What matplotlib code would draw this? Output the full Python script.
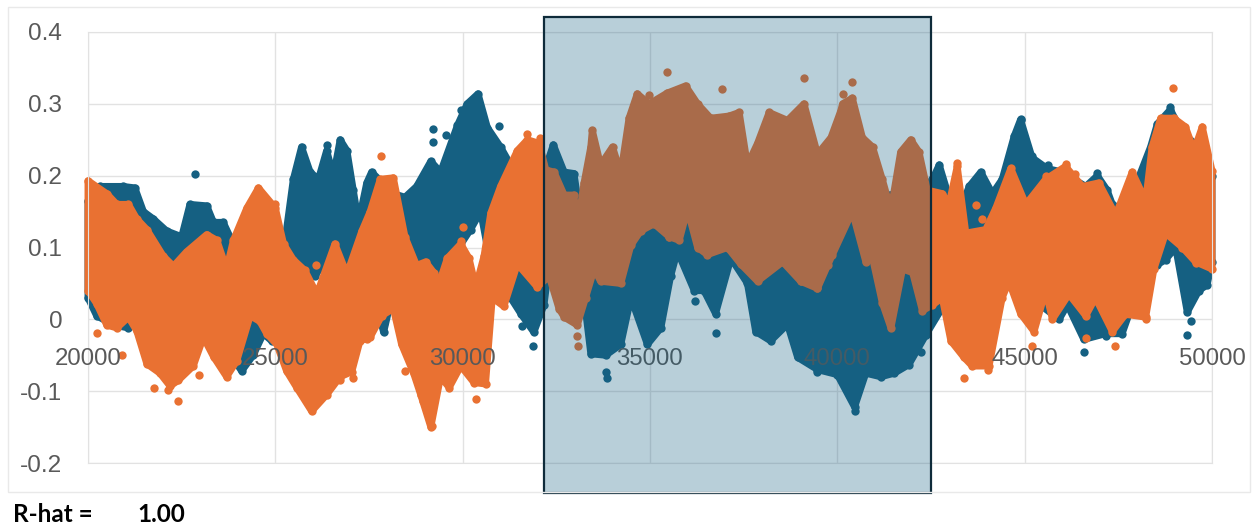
import matplotlib
matplotlib.use('Agg')
import matplotlib.pyplot as plt
from matplotlib.patches import Rectangle

# top and bottom edges of each point cloud
blue_hi_x = [20000, 20320, 20940, 21250, 21480, 21740, 22100, 22500, 22720, 23170, 23350, 23610, 23790, 24240, 24410, 24770, 25260, 25480, 25700, 25930, 26150, 26370, 26550, 26730, 26910, 27080, 27220, 27440, 27570, 28150, 28460, 28770, 29150, 29410, 29860, 30120, 30410, 30660, 31010, 31280, 31640, 32080, 32420, 32710, 32970, 33150, 35500, 36000, 38000, 42360, 42540, 42720, 42980, 43250, 43520, 43830, 44140, 44400, 44720, 44890, 45200, 45600, 46000, 46630, 46940, 47200, 47340, 47690, 48360, 48540, 48890, 49200, 49650, 50000]
blue_hi_y = [.165, .185, .185, .183, .15, .14, .123, .115, .16, .158, .135, .135, .115, .05, .03, .04, .11, .195, .24, .205, .195, .235, .2, .25, .235, .18, .135, .19, .205, .175, .17, .185, .22, .205, .27, .30, .314, .267, .24, .215, .19, .19, .243, .205, .203, .14, .145, .165, .15, .18, .195, .215, .17, .15, .185, .205, .175, .195, .255, .278, .225, .21, .205, .185, .2, .18, .16, .15, .24, .272, .292, .26, .24, .2]
blue_lo_x = [20000, 20230, 20680, 21080, 21650, 23700, 23880, 24100, 24410, 24680, 24900, 25170, 25390, 25660, 26060, 26370, 26910, 27080, 27440, 27800, 27890, 28060, 28770, 29410, 29770, 30210, 30480, 30660, 31010, 31280, 31550, 31900, 32170, 32440, 32970, 33240, 33420, 33820, 34220, 34490, 34930, 35290, 35550, 35730, 36180, 36440, 36750, 37160, 37600, 37820, 38220, 38670, 38940, 39470, 40000, 40460, 40760, 41160, 41520, 41910, 42360, 42800, 43160, 44400, 45920, 46140, 46580, 47160, 47600, 47960, 48540, 48760, 49030, 49340, 49650, 49870, 50000]
blue_lo_y = [.03, .005, -.008, -.012, .03, .03, -.055, -.072, -.05, -.02, -.03, .03, .09, .082, .06, .085, .065, .08, .05, 0, -.018, .02, .03, .06, .09, .125, .15, .1, .06, .03, .008, -.018, .02, .13, .137, .03, -.048, -.05, -.035, .03, -.035, -.012, .06, .095, .04, .04, .008, .085, .05, -.017, -.03, -.007, -.053, -.07, -.077, -.122, -.075, -.08, -.075, -.063, -.022, .016, .06, .06, 0, .02, -.028, -.02, -.02, .033, .076, .083, .1, .01, .04, .048, .08]

orange_hi_x = [20000, 20500, 20770, 21080, 21300, 21570, 22010, 22280, 22630, 23170, 23440, 23700, 23880, 24240, 24550, 25000, 25220, 25480, 25790, 26110, 26590, 26910, 27310, 27530, 27800, 28150, 28460, 28770, 29010, 29230, 29370, 29590, 29950, 30170, 30350, 30570, 30750, 31010, 31460, 31730, 32040, 32220, 32440, 32710, 32970, 33060, 33240, 33420, 33460, 33680, 34000, 34220, 34440, 34660, 34980, 35460, 35950, 36270, 36620, 37110, 37380, 37600, 37870, 38180, 38670, 39110, 39470, 39830, 40090, 40140, 40400, 40670, 40940, 41200, 41430, 41690, 41960, 42180, 42400, 42800, 42980, 43200, 43430, 43960, 44230, 44630, 45030, 45560, 46090, 46540, 46980, 47430, 47870, 48230, 48400, 48630, 48980, 49290, 49520, 49740, 50000]
orange_hi_y = [.193, .175, .16, .16, .14, .125, .088, .074, .094, .118, .11, .07, .11, .155, .183, .155, .105, .083, .068, .035, .105, .063, .123, .15, .195, .197, .115, .075, .08, .065, .05, .085, .105, .085, .045, .088, .148, .185, .235, .25, .245, .208, .205, .173, .173, .128, .19, .24, .263, .215, .24, .203, .28, .314, .30, .315, .325, .30, .28, .283, .288, .215, .245, .288, .277, .30, .23, .253, .29, .30, .308, .253, .24, .195, .152, .233, .25, .233, .18, .175, .16, .213, .12, .125, .155, .21, .16, .195, .213, .185, .19, .145, .205, .165, .24, .28, .28, .268, .235, .268, .207]
orange_lo_x = [20000, 20230, 20500, 20770, 21080, 21300, 21570, 21920, 22190, 22410, 22810, 23080, 23350, 23700, 23970, 24330, 24590, 24770, 25040, 25300, 25570, 25970, 26370, 26730, 27040, 27260, 27530, 27840, 28150, 28370, 28690, 28880, 29150, 29410, 29640, 29950, 30300, 30610, 30790, 31100, 31460, 31990, 32310, 32570, 32710, 33060, 33280, 33510, 33680, 34220, 34490, 34750, 35110, 35510, 35780, 36000, 36270, 36530, 37070, 37420, 37870, 38540, 39020, 39470, 39740, 39870, 40400, 40760, 40940, 41200, 41430, 41740, 42010, 42270, 42540, 42800, 43030, 43380, 43600, 44050, 44400, 44580, 44890, 45250, 45560, 45740, 46180, 46630, 46890, 47340, 47690, 48230, 48450, 48760, 49210, 49560, 50000]
orange_lo_y = [.04, .022, -.008, -.012, .003, -.016, -.062, -.075, -.093, -.085, -.065, -.025, -.052, -.08, -.058, .005, -.003, -.02, -.035, -.072, -.095, -.128, -.105, -.08, -.073, -.03, -.025, .005, .015, -.035, -.075, -.105, -.15, -.08, -.095, -.065, -.088, -.09, .03, .018, .077, .045, .06, .015, .003, -.008, .03, .07, .053, .05, .103, .123, .133, .115, .11, .153, .1, .09, .1, .077, .053, .08, .053, .043, .075, .09, .15, .08, .085, .023, -.012, .07, .065, .012, .02, .03, -.03, -.053, -.065, -.065, .03, .053, .008, -.017, .04, 0, .035, .005, .03, -.017, .007, .003, .07, .12, .1, .08, .07]

# single points that stand clear of the clouds
blue_out_x = [22860, 27890, 26370, 29210, 29210, 29560, 29950, 30980, 31580, 31890, 33820, 33840, 36200, 36750, 39470, 40460, 42230, 48890, 49340, 49450, 46580, 45630, 45190, 44890, 46940, 47160]
blue_out_y = [.203, -.005, .242, .265, .247, .257, .291, .269, -.009, -.037, -.073, -.081, .025, -.019, -.073, -.127, -.046, .296, -.022, -.003, -.045, .215, .228, .279, .204, -.023]
orange_out_x = [20250, 20900, 21770, 22140, 22410, 22970, 25000, 27820, 28450, 27440, 27060, 26730, 26090, 28950, 29170, 30020, 29950, 30360, 31730, 32060, 33040, 33090, 35460, 39100, 36930, 34980, 35510, 39020, 39470, 40380, 40140, 43200, 43380, 44030, 45200, 47400, 48250, 48960, 49560, 43710, 43860, 46090, 46340, 45560, 46640]
orange_out_y = [-.019, -.05, -.096, -.099, -.113, -.077, .16, .227, -.072, -.028, -.081, -.085, .076, -.114, -.148, .129, .109, -.111, .258, .252, -.023, -.037, .344, .336, .32, .312, .114, .053, .043, .331, .313, .217, -.081, -.07, -.037, -.037, .001, .322, .078, .159, .14, .216, .202, .2, -.026]

x_ticks = [20000, 25000, 30000, 35000, 40000, 45000, 50000]
y_ticks = [-0.2, -0.1, 0, 0.1, 0.2, 0.3, 0.4]
y_labels = ['-0.2', '-0.1', '0', '0.1', '0.2', '0.3', '0.4']

BLUE = '#156082'
ORANGE = '#E97132'
GRID = '#e2e2e2'
TEXT = '#595959'


def draw_cloud(ax, hi_x, hi_y, lo_x, lo_y, out_x, out_y, color):
  # the thick round outline stands in for the point radius along the edge
  ax.fill(hi_x + lo_x[::-1], hi_y + lo_y[::-1], facecolor=color, edgecolor=color,
          linewidth=5.0, joinstyle='round', clip_on=False, zorder=2)
  ax.scatter(hi_x + lo_x + out_x, hi_y + lo_y + out_y, s=36, color=color,
             linewidths=0, clip_on=False, zorder=2)


def main():
  plt.rcParams['font.family'] = ['Liberation Sans', 'DejaVu Sans']
  fig = plt.figure(figsize=(12.52, 5.27), dpi=100)
  pos = [88 / 1252, 1 - 463 / 527, (1212 - 88) / 1252, (463 - 32) / 527]

  # outer chart border
  fig.add_artist(Rectangle((8 / 1252, 1 - 492 / 527), 1242 / 1252, 485 / 527,
                           transform=fig.transFigure, fill=False,
                           edgecolor='#e9e9e9', linewidth=1))

  ax = fig.add_axes(pos)
  ax.set_xlim(20000, 50000)
  ax.set_ylim(-0.2, 0.4)
  ax.set_xticks(x_ticks)
  ax.set_yticks(y_ticks)
  ax.set_yticklabels(y_labels)
  ax.set_xticklabels([])
  ax.set_axisbelow(True)
  ax.grid(True, color=GRID, linewidth=1)
  ax.tick_params(length=0, labelsize=17.6, labelcolor=TEXT, pad=18.5)
  for spine in ax.spines.values():
    spine.set_color(GRID)

  draw_cloud(ax, blue_hi_x, blue_hi_y, blue_lo_x, blue_lo_y, blue_out_x, blue_out_y, BLUE)
  draw_cloud(ax, orange_hi_x, orange_hi_y, orange_lo_x, orange_lo_y, orange_out_x, orange_out_y, ORANGE)

  # x labels sit below the zero line, on top of the points
  top = fig.add_axes(pos, frameon=True, facecolor='none')
  top.set_xlim(20000, 50000)
  top.set_ylim(-0.2, 0.4)
  top.set_yticks([])
  top.set_xticks(x_ticks)
  top.tick_params(axis='x', length=0, labelsize=17.3, labelcolor=TEXT, pad=20.5)
  for spine in top.spines.values():
    spine.set_visible(False)
  top.spines['bottom'].set_position(('data', 0))

  # highlighted window drawn over everything
  top.add_patch(Rectangle((32170, -0.2417), 42500 - 32170, 0.4208 + 0.2417,
                          facecolor=(0x15 / 255, 0x60 / 255, 0x82 / 255, 0.3),
                          edgecolor='#0e2b3a', linewidth=1.6, clip_on=False, zorder=5))

  fig.text(13 / 1252, 1 - 514 / 527, 'R-hat =', family='Lato', weight='bold',
           fontsize=17.5, color='black', va='center')
  fig.text(137 / 1252, 1 - 514 / 527, '1.00', family='Lato', weight='bold',
           fontsize=17.5, color='black', va='center')

  fig.savefig('out.png', dpi=100)


if __name__ == "__main__":
  main()
